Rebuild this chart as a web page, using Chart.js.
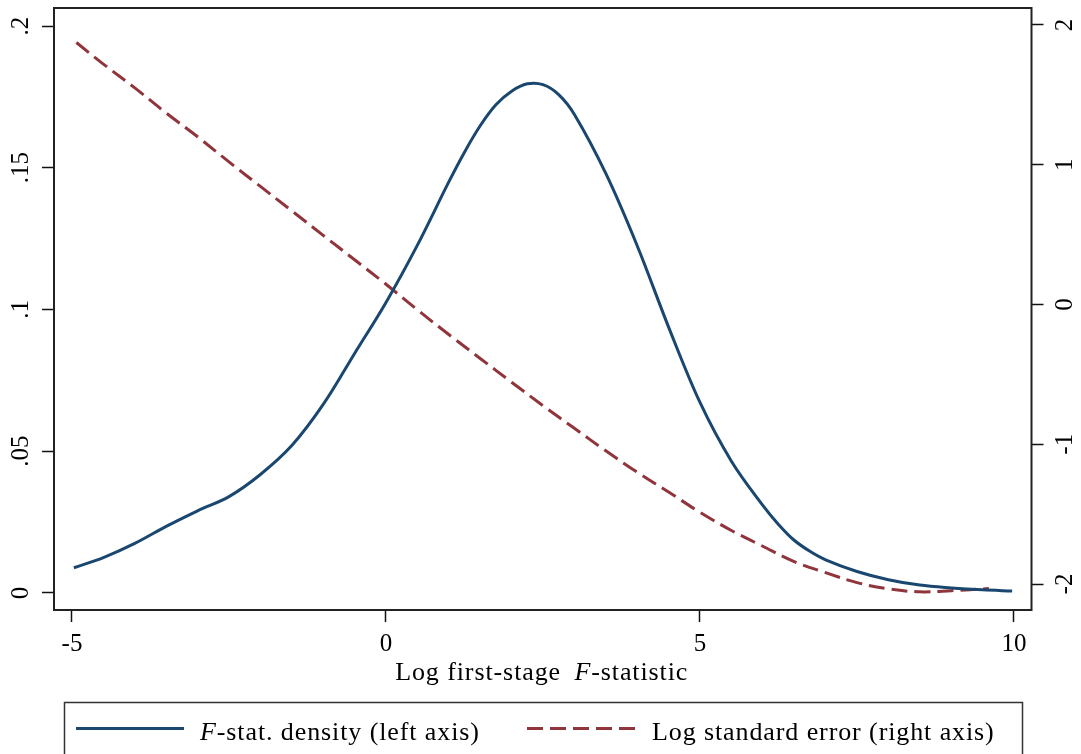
<!DOCTYPE html>
<html>
<head>
<meta charset="utf-8">
<script src="https://cdn.jsdelivr.net/npm/chart.js@4/dist/chart.umd.min.js"></script>
<style>
  html, body { margin: 0; padding: 0; background: #fff; }
  #wrap { width: 1081px; height: 754px; position: relative; }
</style>
</head>
<body>
<div id="wrap"><canvas id="c" width="1081" height="754"></canvas></div>
<script>
// ---- Data ----
const densityX = [-4.97, -4.5, -4, -3.5, -3, -2.5, -2, -1.5, -1, -0.5, 0, 0.5, 1, 1.25, 1.5, 1.75, 2, 2.25, 2.5, 2.75, 3, 3.5, 4, 4.5, 5, 5.5, 6, 6.25, 6.5, 6.75, 7, 7.5, 8, 8.5, 9, 9.5, 9.97];
const densityY = [0.0089, 0.0125, 0.0175, 0.0235, 0.029, 0.034, 0.0418, 0.052, 0.0665, 0.0845, 0.1025, 0.1227, 0.145, 0.1555, 0.1648, 0.1722, 0.177, 0.1796, 0.1793, 0.1758, 0.1688, 0.148, 0.1225, 0.0938, 0.0672, 0.0465, 0.0309, 0.0242, 0.0186, 0.0147, 0.0117, 0.0076, 0.0047, 0.0028, 0.0018, 0.0011, 0.0007];

const logseX = [-4.93, -4.5, -4, -3.5, -3, -2.5, -2, -1.5, -1, -0.5, 0, 0.5, 1, 1.5, 2, 2.5, 3, 3.5, 4, 4.5, 5, 5.5, 6, 6.5, 7, 7.5, 8, 8.5, 9, 9.6];
const logseY = [1.875, 1.72, 1.55, 1.37, 1.20, 1.02, 0.845, 0.67, 0.495, 0.32, 0.145, -0.038, -0.215, -0.386, -0.556, -0.724, -0.886, -1.047, -1.20, -1.342, -1.487, -1.617, -1.73, -1.84, -1.919, -1.99, -2.035, -2.056, -2.048, -2.033];

const xTicks = [-5, 0, 5, 10];
const xTickLabels = ['-5', '0', '5', '10'];
const leftTicks = [0, 0.05, 0.1, 0.15, 0.2];
const leftTickLabels = ['0', '.05', '.1', '.15', '.2'];
const rightTicks = [-2, -1, 0, 1, 2];
const rightTickLabels = ['-2', '-1', '0', '1', '2'];

const seriesNames = ['-stat. density (left axis)', 'Log standard error (right axis)'];
const xTitleParts = [{t: 'Log first-stage ', i: false, dx: 6}, {t: 'F', i: true, dx: 0}, {t: '-statistic', i: false, dx: 0}];

// ---- Styles ----
const BLUE = '#1a476f';
const RED = '#90353b';
const FONT = "'Liberation Serif', 'Times New Roman', serif";
const FS = 25;     // tick labels
const TFS = 26;    // title / legend text
const LSP = '0.9px';

function pts(xs, ys) { return xs.map((x, k) => ({x: x, y: ys[k]})); }

function setTextFont(ctx, italic) {
  ctx.font = (italic ? 'italic ' : '') + TFS + 'px ' + FONT;
  try { ctx.letterSpacing = LSP; } catch (e) {}
}
function richWidth(ctx, parts) {
  let w = 0;
  parts.forEach(p => { setTextFont(ctx, p.i); w += ctx.measureText(p.t).width + (p.dx || 0); });
  return w;
}
function drawRich(ctx, parts, x, y) {
  ctx.textAlign = 'left';
  ctx.textBaseline = 'alphabetic';
  parts.forEach(p => {
    setTextFont(ctx, p.i);
    ctx.fillText(p.t, x, y);
    x += ctx.measureText(p.t).width + (p.dx || 0);
  });
  try { ctx.letterSpacing = '0px'; } catch (e) {}
}

const decor = {
  id: 'decor',
  afterDraw(chart) {
    const ctx = chart.ctx;
    const a = chart.chartArea;
    ctx.save();
    // frame
    ctx.strokeStyle = '#222';
    ctx.lineWidth = 2;
    ctx.setLineDash([]);
    ctx.strokeRect(a.left, a.top, a.right - a.left, a.bottom - a.top);

    // rotated y tick labels
    ctx.fillStyle = '#000';
    ctx.font = FS + 'px ' + FONT;
    ctx.textAlign = 'center';
    ctx.textBaseline = 'middle';
    const yl = chart.scales.y, yr = chart.scales.y2;
    leftTicks.forEach((v, k) => {
      const py = yl.getPixelForValue(v);
      ctx.save(); ctx.translate(21.5, py); ctx.rotate(-Math.PI / 2);
      ctx.fillText(leftTickLabels[k], 0, 0); ctx.restore();
    });
    rightTicks.forEach((v, k) => {
      const py = yr.getPixelForValue(v);
      ctx.save(); ctx.translate(1065, py); ctx.rotate(-Math.PI / 2);
      ctx.fillText(rightTickLabels[k], 0, 0); ctx.restore();
    });

    // x axis title
    const cx = (a.left + a.right) / 2 - 1;
    const tw = richWidth(ctx, xTitleParts);
    drawRich(ctx, xTitleParts, cx - tw / 2, 680);

    // legend box
    ctx.strokeStyle = '#333';
    ctx.lineWidth = 1.5;
    ctx.strokeRect(64.5, 702.5, 958, 80);
    const ds = chart.data.datasets;
    const ly = 728.5;
    ctx.lineWidth = ds[0].borderWidth;
    ctx.strokeStyle = ds[0].borderColor;
    ctx.setLineDash([]);
    ctx.beginPath(); ctx.moveTo(76, ly); ctx.lineTo(184, ly); ctx.stroke();
    ctx.fillStyle = '#000';
    drawRich(ctx, [{t: 'F', i: true}, {t: seriesNames[0], i: false}], 200, 740);
    ctx.lineWidth = ds[1].borderWidth;
    ctx.strokeStyle = ds[1].borderColor;
    ctx.setLineDash(ds[1].borderDash);
    ctx.beginPath(); ctx.moveTo(527, ly); ctx.lineTo(636, ly); ctx.stroke();
    ctx.setLineDash([]);
    drawRich(ctx, [{t: seriesNames[1], i: false}], 652, 740);
    ctx.restore();
  }
};

function fixTicks(values) {
  return function(scale) { scale.ticks = values.map(v => ({value: v})); };
}

const gridOpts = {
  display: true, drawOnChartArea: false, drawTicks: true,
  tickLength: 12, tickWidth: 1.5, tickColor: '#111'
};

new Chart(document.getElementById('c'), {
  type: 'line',
  data: {
    datasets: [
      {
        label: 'F' + seriesNames[0],
        data: pts(densityX, densityY),
        yAxisID: 'y',
        borderColor: BLUE, borderWidth: 3,
        pointRadius: 0, fill: false,
        tension: 0.35
      },
      {
        label: seriesNames[1],
        data: pts(logseX, logseY),
        yAxisID: 'y2',
        borderColor: RED, borderWidth: 3,
        borderDash: [16, 7],
        pointRadius: 0, fill: false,
        tension: 0.35
      }
    ]
  },
  options: {
    responsive: false,
    devicePixelRatio: 1,
    animation: false,
    layout: { padding: { top: 8, left: 0, right: 0, bottom: 0 } },
    plugins: { legend: { display: false }, tooltip: { enabled: false }, title: { display: false } },
    scales: {
      x: {
        type: 'linear', position: 'bottom',
        min: -5.2866, max: 10.2787,
        afterBuildTicks: fixTicks(xTicks),
        afterFit(s) { s.height = 144; },
        grid: gridOpts,
        border: { display: false },
        ticks: {
          padding: 7, color: '#000', maxRotation: 0, minRotation: 0,
          font: { family: FONT, size: FS },
          callback: (v) => { const k = xTicks.indexOf(v); return k >= 0 ? xTickLabels[k] : ''; }
        }
      },
      y: {
        type: 'linear', position: 'left',
        min: -0.0060, max: 0.20635,
        afterBuildTicks: fixTicks(leftTicks),
        afterFit(s) { s.width = 54; },
        grid: gridOpts,
        border: { display: false },
        ticks: { display: false }
      },
      y2: {
        type: 'linear', position: 'right',
        min: -2.186, max: 2.1216,
        afterBuildTicks: fixTicks(rightTicks),
        afterFit(s) { s.width = 49.5; },
        grid: gridOpts,
        border: { display: false },
        ticks: { display: false }
      }
    }
  },
  plugins: [decor]
});
</script>
</body>
</html>
